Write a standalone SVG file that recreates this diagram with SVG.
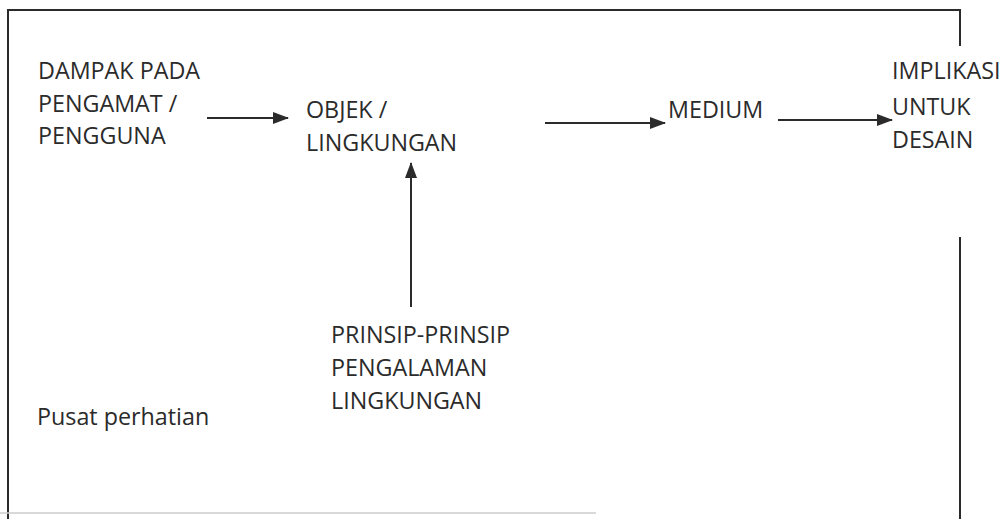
<svg xmlns="http://www.w3.org/2000/svg" width="1007" height="519" viewBox="0 0 1007 519">
<style>
text{font-family:"Open Sans",Lato,"Liberation Sans",sans-serif;font-size:23.3px;fill:#2b2b2b}
.ln{stroke:#2b2b2b;stroke-width:2;fill:none}
</style>
<defs>
<marker id="ah" markerWidth="16" markerHeight="12" refX="15" refY="6" orient="auto" markerUnits="userSpaceOnUse">
<path d="M0,0 L16,6 L0,12 Z" fill="#2b2b2b"/>
</marker>
</defs>
<rect width="1007" height="519" fill="#fff"/>
<g id="frame">
<path class="ln" d="M8,519 L8,10 L960,10 L960,46"/>
<path class="ln" d="M960,237 L960,519"/>
<path d="M0,513 L596,513" stroke="#ccc" stroke-width="1.5"/>
</g>
<g id="n-dampak"><text x="38" y="79">DAMPAK PADA</text><text x="38" y="112">PENGAMAT /</text><text x="38" y="144">PENGGUNA</text></g>
<g id="n-objek"><text x="306" y="118">OBJEK /</text><text x="306" y="151">LINGKUNGAN</text></g>
<g id="n-medium"><text x="668" y="118">MEDIUM</text></g>
<g id="n-implikasi"><text x="892" y="79">IMPLIKASI</text><text x="892" y="115">UNTUK</text><text x="892" y="148">DESAIN</text></g>
<g id="n-prinsip"><text x="331" y="343">PRINSIP-PRINSIP</text><text x="331" y="376">PENGALAMAN</text><text x="331" y="409">LINGKUNGAN</text></g>
<g id="n-pusat"><text x="37" y="425">Pusat perhatian</text></g>
<g id="connectors">
<line class="ln" x1="207" y1="118" x2="288" y2="118" marker-end="url(#ah)"/>
<line class="ln" x1="545" y1="123" x2="665" y2="123" marker-end="url(#ah)"/>
<line class="ln" x1="778" y1="120" x2="892" y2="120" marker-end="url(#ah)"/>
<line class="ln" x1="411" y1="307" x2="411" y2="163" marker-end="url(#ah)"/>
</g>
</svg>
